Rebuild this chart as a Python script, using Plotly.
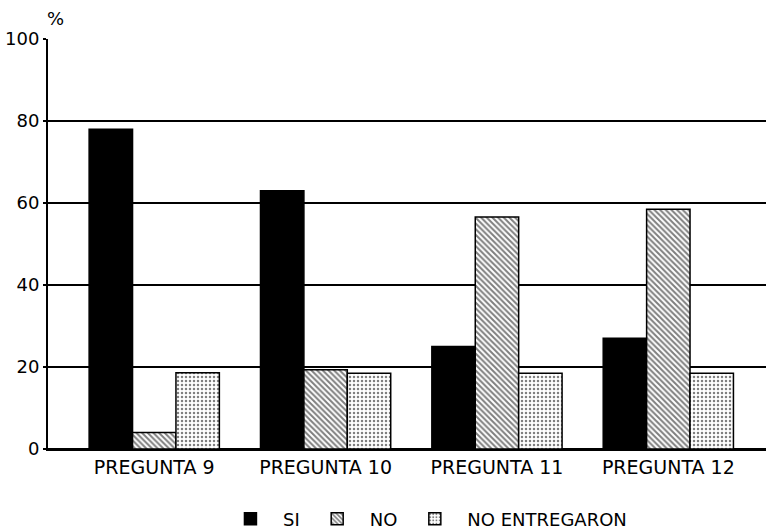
import plotly.graph_objects as go

categories = ["PREGUNTA 9", "PREGUNTA 10", "PREGUNTA 11", "PREGUNTA 12"]
si_values = [78, 63, 25, 27]
no_values = [4, 19.3, 56.6, 58.5]
no_entregaron_values = [18.6, 18.5, 18.5, 18.5]
y_ticks = [0, 20, 40, 60, 80, 100]

FONT = "DejaVu Sans"

fig = go.Figure()
fig.add_trace(go.Bar(
    name="SI", x=categories, y=si_values,
    marker=dict(color="black", line=dict(color="black", width=1.5)),
))
fig.add_trace(go.Bar(
    name="NO", x=categories, y=no_values,
    marker=dict(color="white", line=dict(color="black", width=1.5),
                pattern=dict(shape="\\", fgcolor="black", bgcolor="white",
                             size=4, solidity=0.5)),
))
fig.add_trace(go.Bar(
    name="NO ENTREGARON", x=categories, y=no_entregaron_values,
    marker=dict(color="white", line=dict(color="black", width=1.5),
                pattern=dict(shape=".", fgcolor="black", bgcolor="white",
                             size=4, solidity=0.3)),
))

fig.update_layout(
    width=768, height=532,
    margin=dict(l=48, r=2, t=39, b=83, autoexpand=False),
    plot_bgcolor="white", paper_bgcolor="white",
    barmode="group", bargap=0.24, bargroupgap=0,
    font=dict(family=FONT, color="black", size=17),
    showlegend=True,
    legend=dict(orientation="h", x=0.525, xanchor="center", y=-0.171, yanchor="middle",
                font=dict(size=18, family=FONT), itemwidth=55,
                traceorder="normal", bgcolor="rgba(0,0,0,0)"),
    annotations=[dict(text="%", xref="paper", yref="paper", x=-0.004, y=1.049,
                      xanchor="left", yanchor="middle", showarrow=False,
                      font=dict(size=18, family=FONT, color="black"))],
)
fig.update_xaxes(
    range=[-0.62, 3.57], showgrid=False, showline=True, linecolor="black",
    linewidth=2, ticks="", tickfont=dict(size=19, family=FONT), fixedrange=True,
    automargin=False,
)
fig.update_yaxes(
    range=[0, 100], tickvals=y_ticks, showgrid=True, gridcolor="black",
    gridwidth=1.5, showline=True, linecolor="black", linewidth=2,
    ticks="outside", ticklen=3, tickwidth=1.5, tickcolor="black",
    zeroline=True, zerolinecolor="black", zerolinewidth=2,
    tickfont=dict(size=18, family=FONT), fixedrange=True, automargin=False,
)

fig.write_html("out.html", config={"displayModeBar": False},
               post_script="document.body.style.margin='0';")
